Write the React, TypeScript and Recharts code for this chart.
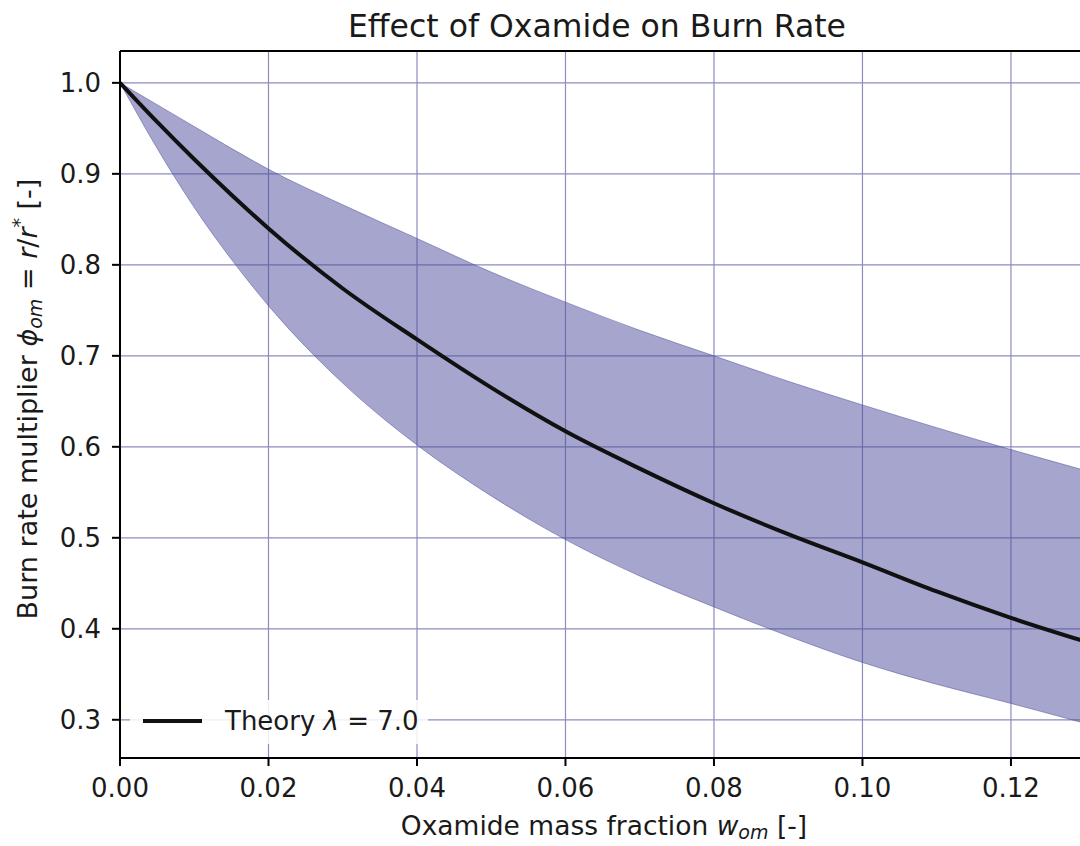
import React from 'react';
import { ComposedChart, Line, Area, XAxis, YAxis, CartesianGrid, ReferenceLine, Customized } from 'recharts';

// oxamide mass fraction w_om
const massFraction = [0, 0.005, 0.01, 0.015, 0.02, 0.03, 0.04, 0.05, 0.06, 0.07, 0.08, 0.09, 0.1, 0.11, 0.12, 0.13];
// theory curve, lambda = 7.0
const theory = [1.0, 0.957, 0.916, 0.877, 0.84, 0.774, 0.718, 0.665, 0.617, 0.576, 0.538, 0.504, 0.473, 0.441, 0.412, 0.386];
// uncertainty band
const bandLow = [1.0, 0.928, 0.863, 0.806, 0.755, 0.67, 0.602, 0.546, 0.498, 0.458, 0.424, 0.392, 0.363, 0.339, 0.318, 0.296];
const bandHigh = [1.0, 0.976, 0.952, 0.928, 0.905, 0.866, 0.829, 0.792, 0.759, 0.728, 0.7, 0.672, 0.646, 0.621, 0.597, 0.574];

const xTicks = [0, 0.02, 0.04, 0.06, 0.08, 0.1, 0.12];
const yTicks = [0.3, 0.4, 0.5, 0.6, 0.7, 0.8, 0.9, 1.0];

const data = massFraction.map((w, i) => ({
  w,
  theory: theory[i],
  band: [bandLow[i], bandHigh[i]],
}));

const FONT = 'DejaVu Sans';
const GRID = '#8c8cbf';

// title, legend and axis labels drawn as plain svg text
const Extras = () => (
  <g fontFamily={FONT} fill="#1a1a1a">
    <text x={597} y={37} fontSize={31.5} textAnchor="middle">
      Effect of Oxamide on Burn Rate
    </text>
    <text x={604} y={835} fontSize={26.5} textAnchor="middle">
      Oxamide mass fraction{' '}
      <tspan fontStyle="italic">w</tspan>
      <tspan fontStyle="italic" fontSize={19} dy={4}>om</tspan>
      <tspan dy={-4}> [-]</tspan>
    </text>
    <text x={37} y={399} fontSize={27} textAnchor="middle" transform="rotate(-90 37 399)">
      Burn rate multiplier{' '}
      <tspan fontStyle="italic">ϕ</tspan>
      <tspan fontStyle="italic" fontSize={19} dy={5}>om</tspan>
      <tspan dy={-5}> = </tspan>
      <tspan fontStyle="italic">r</tspan>
      <tspan>/</tspan>
      <tspan fontStyle="italic">r</tspan>
      <tspan fontSize={19} dy={-11}>*</tspan>
      <tspan dy={11}> [-]</tspan>
    </text>
    <rect x={130} y={700} width={298} height={44} fill="#ffffff" fillOpacity={0.85} />
    <line x1={143} y1={721} x2={202} y2={721} stroke="#111111" strokeWidth={4} />
    <text x={225} y={730} fontSize={26}>
      Theory <tspan fontStyle="italic">λ</tspan> = 7.0
    </text>
  </g>
);

export default function App() {
  return (
    <div style={{ position: 'absolute', left: 0, top: 0, background: '#fff' }}>
      <ComposedChart width={1080} height={846} data={data} margin={{ top: 51, right: 0, bottom: 38, left: 20 }}>
        <CartesianGrid stroke={GRID} strokeWidth={1.2} horizontalValues={yTicks} verticalValues={xTicks} />
        <XAxis
          type="number"
          dataKey="w"
          domain={[0, 0.1293]}
          allowDataOverflow
          ticks={xTicks}
          tickFormatter={(v: number) => v.toFixed(2)}
          height={50}
          tickSize={8}
          tickMargin={13}
          stroke="#000"
          strokeWidth={2}
          tick={{ fill: '#1a1a1a', fontSize: 26, fontFamily: FONT }}
        />
        <YAxis
          type="number"
          domain={[0.258, 1.035]}
          allowDataOverflow
          ticks={yTicks}
          tickFormatter={(v: number) => v.toFixed(1)}
          width={100}
          tickSize={8}
          tickMargin={11}
          stroke="#000"
          strokeWidth={2}
          tick={{ fill: '#1a1a1a', fontSize: 26, fontFamily: FONT }}
        />
        <ReferenceLine y={1.035} stroke="#000" strokeWidth={2} />
        <Area
          dataKey="band"
          type="monotone"
          fill="#4c4c9c"
          fillOpacity={0.5}
          stroke="#4c4c9c"
          strokeOpacity={0.5}
          strokeWidth={1}
          isAnimationActive={false}
        />
        <Line dataKey="theory" type="monotone" stroke="#111111" strokeWidth={4} dot={false} isAnimationActive={false} />
        <Customized component={Extras} />
      </ComposedChart>
    </div>
  );
}
